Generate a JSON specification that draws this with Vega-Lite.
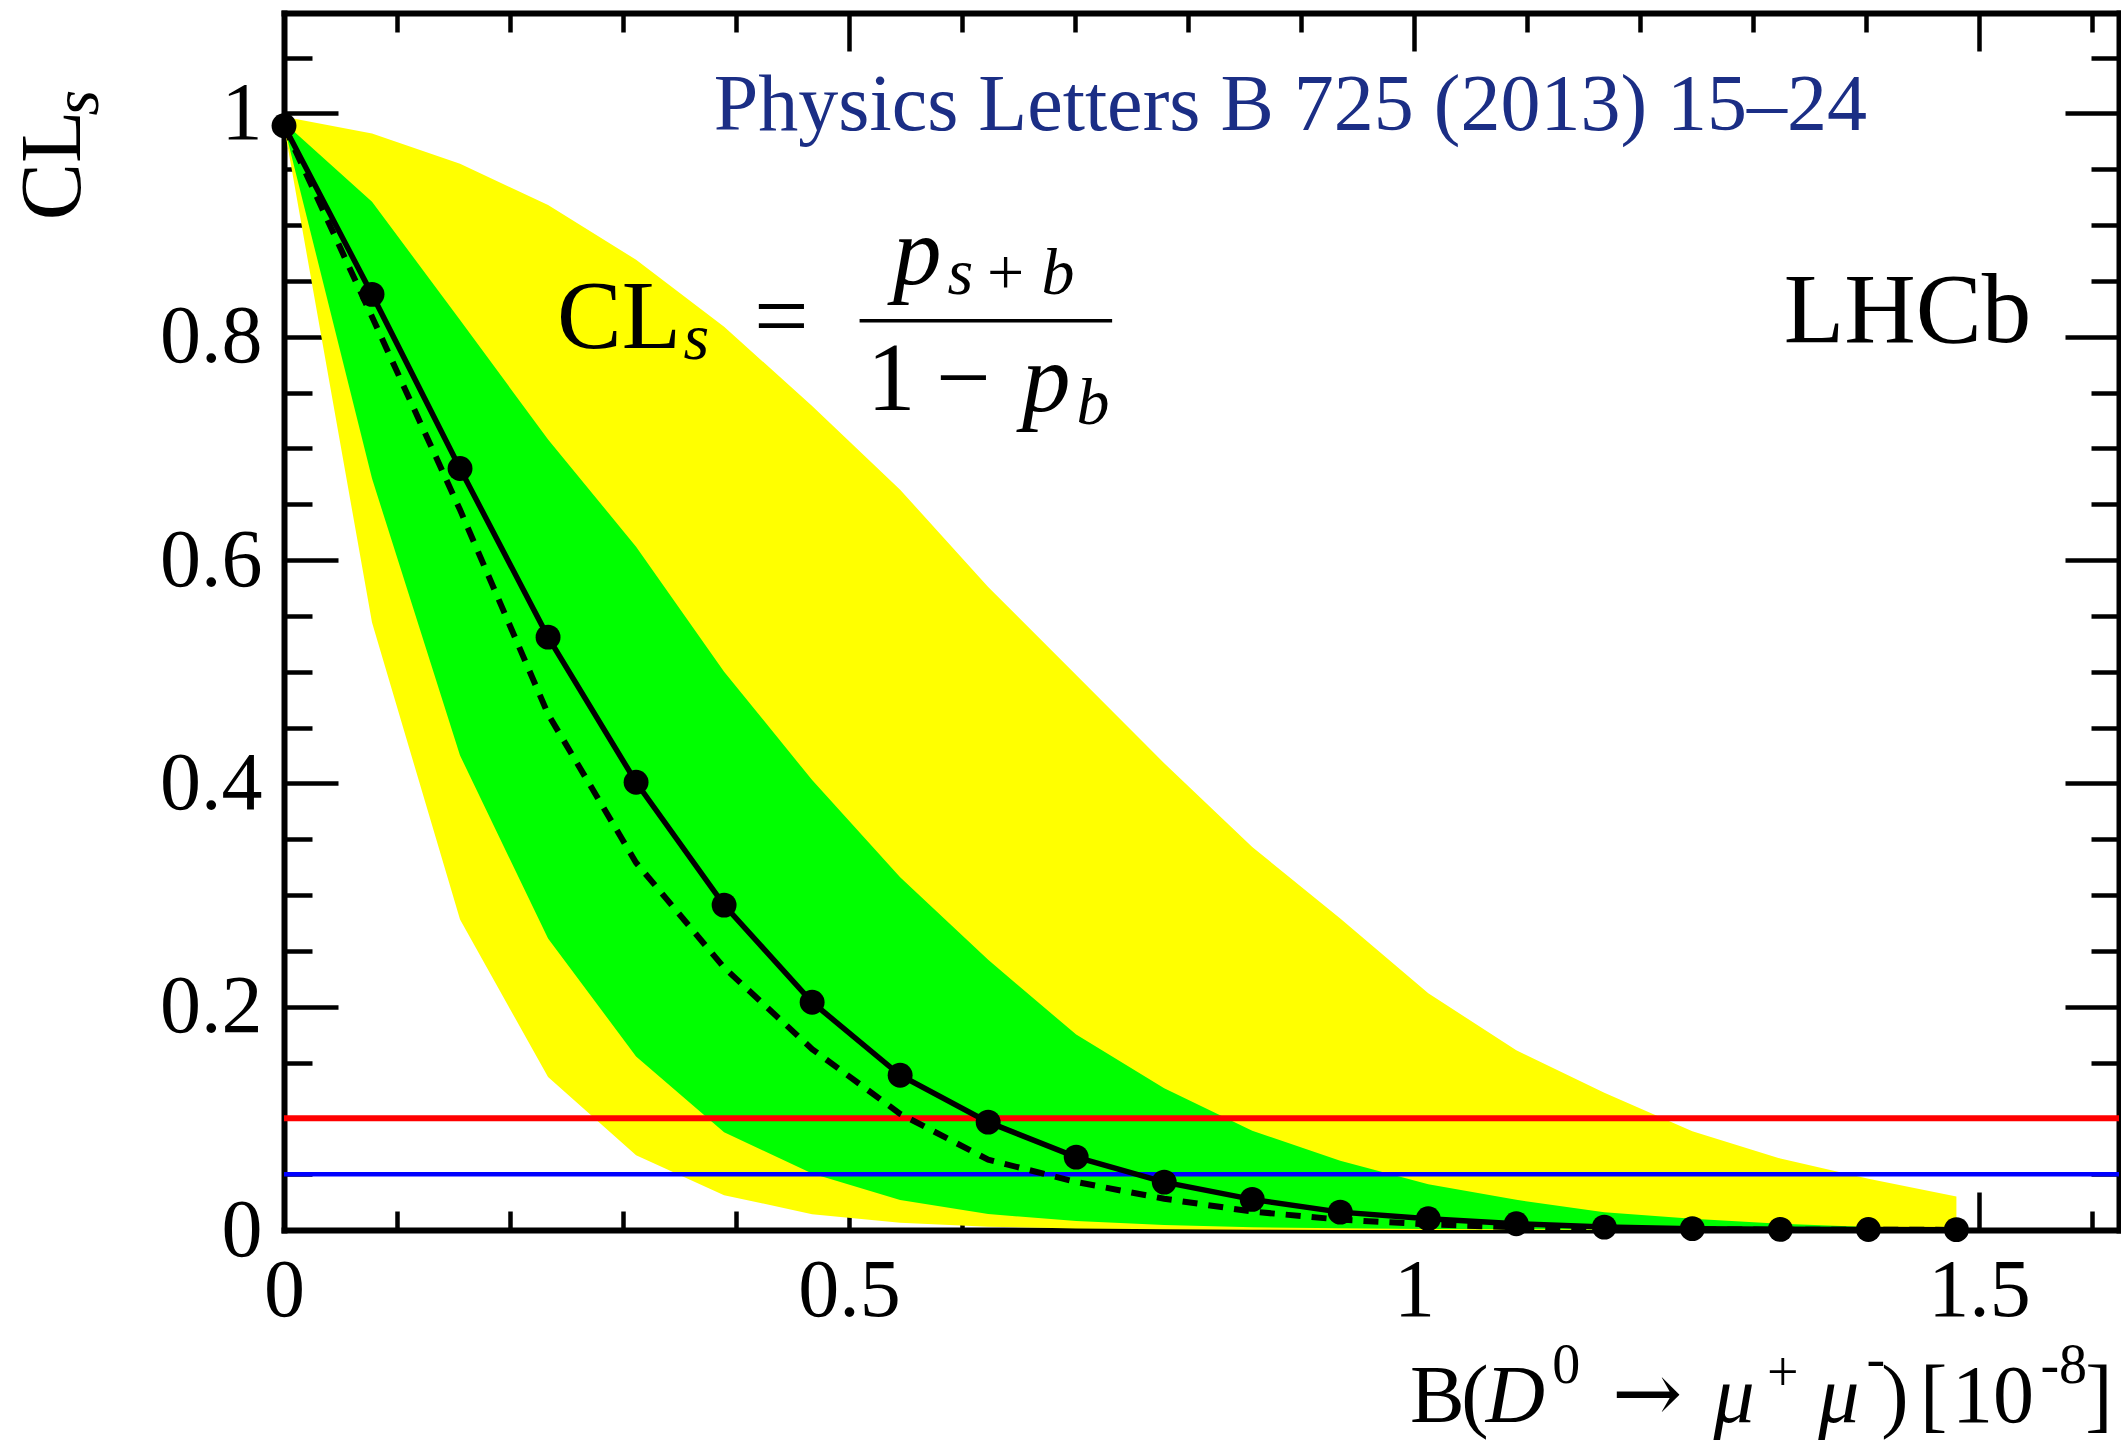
{
  "$schema": "https://vega.github.io/schema/vega-lite/v6.json",
  "autosize": "none",
  "width": 1835,
  "height": 1217,
  "padding": {"left": 284, "top": 13, "right": 2, "bottom": 214},
  "background": "white",
  "config": {
    "view": {"stroke": null},
    "axis": {"domain": false, "grid": false, "tickColor": "black", "tickWidth": 4.5, "zindex": 1,
             "labelFont": "Liberation Serif", "labelFontSize": 82, "labelColor": "black",
             "labelFlush": false, "labelOverlap": false, "labelBound": false}
  },
  "datasets": {
    "cls": [
      {"x": 0, "obs": 0.989, "exp": 0.989, "lo2": 0.989, "lo1": 0.989, "hi1": 0.992, "hi2": 0.997},
      {"x": 0.0779, "obs": 0.838, "exp": 0.818, "lo2": 0.544, "lo1": 0.673, "hi1": 0.921, "hi2": 0.982},
      {"x": 0.1558, "obs": 0.682, "exp": 0.645, "lo2": 0.278, "lo1": 0.425, "hi1": 0.815, "hi2": 0.955},
      {"x": 0.2337, "obs": 0.531, "exp": 0.462, "lo2": 0.137, "lo1": 0.261, "hi1": 0.708, "hi2": 0.918},
      {"x": 0.3116, "obs": 0.401, "exp": 0.329, "lo2": 0.067, "lo1": 0.1555, "hi1": 0.612, "hi2": 0.869},
      {"x": 0.3895, "obs": 0.291, "exp": 0.235, "lo2": 0.0312, "lo1": 0.0875, "hi1": 0.5, "hi2": 0.809},
      {"x": 0.4674, "obs": 0.204, "exp": 0.162, "lo2": 0.0142, "lo1": 0.0505, "hi1": 0.403, "hi2": 0.738},
      {"x": 0.5453, "obs": 0.1386, "exp": 0.104, "lo2": 0.0066, "lo1": 0.0268, "hi1": 0.316, "hi2": 0.663},
      {"x": 0.6232, "obs": 0.0966, "exp": 0.063, "lo2": 0.003, "lo1": 0.0143, "hi1": 0.242, "hi2": 0.576},
      {"x": 0.7011, "obs": 0.0653, "exp": 0.043, "lo2": 0.0014, "lo1": 0.008, "hi1": 0.175, "hi2": 0.497},
      {"x": 0.779, "obs": 0.0429, "exp": 0.028, "lo2": 0.0007, "lo1": 0.0045, "hi1": 0.127, "hi2": 0.418},
      {"x": 0.8569, "obs": 0.0274, "exp": 0.0165, "lo2": 0.0003, "lo1": 0.0025, "hi1": 0.089, "hi2": 0.343},
      {"x": 0.9348, "obs": 0.016, "exp": 0.0093, "lo2": 0.0001, "lo1": 0.0015, "hi1": 0.062, "hi2": 0.279},
      {"x": 1.0127, "obs": 0.0101, "exp": 0.005, "lo2": 0, "lo1": 0.001, "hi1": 0.041, "hi2": 0.212},
      {"x": 1.0906, "obs": 0.0056, "exp": 0.0025, "lo2": 0, "lo1": 0.0006, "hi1": 0.027, "hi2": 0.161},
      {"x": 1.1685, "obs": 0.0026, "exp": 0.001, "lo2": 0, "lo1": 0.0004, "hi1": 0.016, "hi2": 0.123},
      {"x": 1.2464, "obs": 0.0012, "exp": 0.0005, "lo2": 0, "lo1": 0.0002, "hi1": 0.01, "hi2": 0.0885},
      {"x": 1.3243, "obs": 0.0006, "exp": 0.0003, "lo2": 0, "lo1": 0.0001, "hi1": 0.0056, "hi2": 0.064},
      {"x": 1.4022, "obs": 0.0004, "exp": 0.0002, "lo2": 0, "lo1": 0, "hi1": 0.0026, "hi2": 0.046},
      {"x": 1.4801, "obs": 0.0003, "exp": 0.0001, "lo2": 0, "lo1": 0, "hi1": 0.001, "hi2": 0.03}
    ],
    "limits": [
      {"cl": "90%", "level": 0.1},
      {"cl": "95%", "level": 0.05}
    ],
    "fraction": [
      {"x": 0.5094, "x2": 0.7329, "y": 0.8143}
    ],
    "texts": [
      {"x": 0.2417, "y": 0.7902, "text": "CL", "group": "f_reg"},
      {"x": 0.4159, "y": 0.7902, "text": "=", "group": "f_reg"},
      {"x": 0.5159, "y": 0.7343, "text": "1", "group": "f_reg"},
      {"x": 0.577, "y": 0.7343, "text": "−", "group": "f_reg"},
      {"x": 0.5389, "y": 0.8474, "text": "p", "group": "f_it"},
      {"x": 0.6531, "y": 0.7335, "text": "p", "group": "f_it"},
      {"x": 0.3535, "y": 0.7802, "text": "s", "group": "f_subit"},
      {"x": 0.5872, "y": 0.8382, "text": "s", "group": "f_subit"},
      {"x": 0.6705, "y": 0.8382, "text": "b", "group": "f_subit"},
      {"x": 0.7014, "y": 0.7223, "text": "b", "group": "f_subit"},
      {"x": 0.6222, "y": 0.8382, "text": "+", "group": "f_sub"},
      {"x": 1.3274, "y": 0.7953, "text": "LHCb", "group": "lhcb"},
      {"x": 0.8907, "y": 0.9849, "text": "Physics Letters B 725 (2013) 15–24", "group": "journal"},
      {"x": 0.9965, "y": -0.1723, "text": "B", "group": "xt_reg"},
      {"x": 1.0418, "y": -0.1723, "text": "(", "group": "xt_reg"},
      {"x": 1.0636, "y": -0.1723, "text": "D", "group": "xt_it"},
      {"x": 1.1225, "y": -0.1374, "text": "0", "group": "xt_sup"},
      {"x": 1.1752, "y": -0.1723, "text": "→", "group": "xt_arrow"},
      {"x": 1.2651, "y": -0.1723, "text": "μ", "group": "xt_it"},
      {"x": 1.3125, "y": -0.1446, "text": "+", "group": "xt_sup"},
      {"x": 1.3578, "y": -0.1723, "text": "μ", "group": "xt_it"},
      {"x": 1.4005, "y": -0.1317, "text": "-", "group": "xt_sup"},
      {"x": 1.4135, "y": -0.1723, "text": ")", "group": "xt_reg"},
      {"x": 1.4478, "y": -0.1723, "text": "[", "group": "xt_reg"},
      {"x": 1.4761, "y": -0.1723, "text": "10", "group": "xt_reg"},
      {"x": 1.5545, "y": -0.1374, "text": "-8", "group": "xt_sup"},
      {"x": 1.5941, "y": -0.1723, "text": "]", "group": "xt_reg"},
      {"x": -0.1802, "y": 0.9043, "text": "CL", "group": "yt_reg"},
      {"x": -0.1646, "y": 0.9983, "text": "s", "group": "yt_subit"}
    ]
  },
  "resolve": {"axis": {"x": "independent", "y": "independent"}},
  "layer": [
    {
      "data": {"name": "cls"},
      "mark": {"type": "area", "color": "#ffff00", "interpolate": "linear"},
      "encoding": {
        "x": {"field": "x", "type": "quantitative", "scale": {"domain": [0, 1.624], "nice": false, "zero": false},
              "axis": {"orient": "bottom", "values": [0, 0.5, 1, 1.5], "tickSize": -38, "labels": false, "title": null,
                       "domain": true, "domainColor": "black", "domainWidth": 6, "domainCap": "square"}},
        "y": {"field": "lo2", "type": "quantitative", "scale": {"domain": [0, 1.09], "nice": false, "zero": false},
              "axis": {"orient": "left", "values": [0, 0.2, 0.4, 0.6, 0.8, 1], "tickSize": -54, "labels": false, "title": null,
                       "domain": true, "domainColor": "black", "domainWidth": 6, "domainCap": "square"}},
        "y2": {"field": "hi2"}
      }
    },
    {
      "data": {"name": "cls"},
      "mark": {"type": "area", "color": "#00ff00", "interpolate": "linear"},
      "encoding": {
        "x": {"field": "x", "type": "quantitative", "scale": {"domain": [0, 1.624], "nice": false, "zero": false},
              "axis": {"orient": "bottom", "values": [0.1, 0.2, 0.3, 0.4, 0.6, 0.7, 0.8, 0.9, 1.1, 1.2, 1.3, 1.4, 1.6], "tickSize": -19, "labels": false, "title": null}},
        "y": {"field": "lo1", "type": "quantitative", "scale": {"domain": [0, 1.09], "nice": false, "zero": false},
              "axis": {"orient": "left", "values": [0.05, 0.1, 0.15, 0.25, 0.3, 0.35, 0.45, 0.5, 0.55, 0.65, 0.7, 0.75, 0.85, 0.9, 0.95, 1.05], "tickSize": -28, "labels": false, "title": null}},
        "y2": {"field": "hi1"}
      }
    },
    {
      "data": {"name": "limits"},
      "transform": [{"filter": "datum.cl == '90%'"}],
      "mark": {"type": "rule", "color": "#ff0000", "strokeWidth": 6},
      "encoding": {
        "y": {"field": "level", "type": "quantitative", "scale": {"domain": [0, 1.09], "nice": false, "zero": false}, "axis": null}
      }
    },
    {
      "data": {"name": "limits"},
      "transform": [{"filter": "datum.cl == '95%'"}],
      "mark": {"type": "rule", "color": "#0000ff", "strokeWidth": 4.5},
      "encoding": {
        "y": {"field": "level", "type": "quantitative", "scale": {"domain": [0, 1.09], "nice": false, "zero": false}, "axis": null}
      }
    },
    {
      "data": {"name": "cls"},
      "mark": {"type": "line", "color": "black", "strokeWidth": 6, "strokeDash": [15, 11]},
      "encoding": {
        "x": {"field": "x", "type": "quantitative", "scale": {"domain": [0, 1.624], "nice": false, "zero": false},
              "axis": {"orient": "top", "values": [0, 0.5, 1, 1.5], "tickSize": -38, "labels": false, "title": null,
                       "domain": true, "domainColor": "black", "domainWidth": 6, "domainCap": "square"}},
        "y": {"field": "exp", "type": "quantitative", "scale": {"domain": [0, 1.09], "nice": false, "zero": false},
              "axis": {"orient": "right", "values": [0, 0.2, 0.4, 0.6, 0.8, 1], "tickSize": -54, "labels": false, "title": null,
                       "domain": true, "domainColor": "black", "domainWidth": 6, "domainCap": "square"}}
      }
    },
    {
      "data": {"name": "cls"},
      "mark": {"type": "line", "color": "black", "strokeWidth": 5.5},
      "encoding": {
        "x": {"field": "x", "type": "quantitative", "scale": {"domain": [0, 1.624], "nice": false, "zero": false},
              "axis": {"orient": "top", "values": [0.1, 0.2, 0.3, 0.4, 0.6, 0.7, 0.8, 0.9, 1.1, 1.2, 1.3, 1.4, 1.6], "tickSize": -19, "labels": false, "title": null}},
        "y": {"field": "obs", "type": "quantitative", "scale": {"domain": [0, 1.09], "nice": false, "zero": false},
              "axis": {"orient": "right", "values": [0.05, 0.1, 0.15, 0.25, 0.3, 0.35, 0.45, 0.5, 0.55, 0.65, 0.7, 0.75, 0.85, 0.9, 0.95, 1.05], "tickSize": -28, "labels": false, "title": null}}
      }
    },
    {
      "data": {"name": "cls"},
      "mark": {"type": "point", "shape": "circle", "filled": true, "color": "black", "size": 620, "opacity": 1},
      "encoding": {
        "x": {"field": "x", "type": "quantitative", "scale": {"domain": [0, 1.624], "nice": false, "zero": false},
              "axis": {"orient": "bottom", "values": [0, 0.5, 1, 1.5], "ticks": false, "labels": true, "labelPadding": 20, "format": "~g", "title": null}},
        "y": {"field": "obs", "type": "quantitative", "scale": {"domain": [0, 1.09], "nice": false, "zero": false},
              "axis": {"orient": "left", "values": [0, 0.2, 0.4, 0.6, 0.8, 1], "ticks": false, "labels": true, "labelPadding": 22, "format": "~g", "title": null}}
      }
    },
    {
      "data": {"name": "fraction"},
      "mark": {"type": "rule", "color": "black", "strokeWidth": 3.5},
      "encoding": {
        "x": {"field": "x", "type": "quantitative", "scale": {"domain": [0, 1.624], "nice": false, "zero": false}, "axis": null},
        "x2": {"field": "x2"},
        "y": {"field": "y", "type": "quantitative", "scale": {"domain": [0, 1.09], "nice": false, "zero": false}, "axis": null}
      }
    },
    {
      "data": {"name": "texts"},
      "transform": [{"filter": "datum.group == 'f_reg'"}],
      "mark": {"type": "text", "font": "Liberation Serif", "fontSize": 97, "align": "left", "baseline": "alphabetic", "color": "black"},
      "encoding": {
        "x": {"field": "x", "type": "quantitative", "scale": {"domain": [0, 1.624], "nice": false, "zero": false}, "axis": null},
        "y": {"field": "y", "type": "quantitative", "scale": {"domain": [0, 1.09], "nice": false, "zero": false}, "axis": null},
        "text": {"field": "text"}
      }
    },
    {
      "data": {"name": "texts"},
      "transform": [{"filter": "datum.group == 'f_it'"}],
      "mark": {"type": "text", "font": "Liberation Serif", "fontStyle": "italic", "fontSize": 97, "align": "left", "baseline": "alphabetic", "color": "black"},
      "encoding": {
        "x": {"field": "x", "type": "quantitative", "scale": {"domain": [0, 1.624], "nice": false, "zero": false}, "axis": null},
        "y": {"field": "y", "type": "quantitative", "scale": {"domain": [0, 1.09], "nice": false, "zero": false}, "axis": null},
        "text": {"field": "text"}
      }
    },
    {
      "data": {"name": "texts"},
      "transform": [{"filter": "datum.group == 'f_subit'"}],
      "mark": {"type": "text", "font": "Liberation Serif", "fontStyle": "italic", "fontSize": 66, "align": "left", "baseline": "alphabetic", "color": "black"},
      "encoding": {
        "x": {"field": "x", "type": "quantitative", "scale": {"domain": [0, 1.624], "nice": false, "zero": false}, "axis": null},
        "y": {"field": "y", "type": "quantitative", "scale": {"domain": [0, 1.09], "nice": false, "zero": false}, "axis": null},
        "text": {"field": "text"}
      }
    },
    {
      "data": {"name": "texts"},
      "transform": [{"filter": "datum.group == 'f_sub'"}],
      "mark": {"type": "text", "font": "Liberation Serif", "fontSize": 66, "align": "left", "baseline": "alphabetic", "color": "black"},
      "encoding": {
        "x": {"field": "x", "type": "quantitative", "scale": {"domain": [0, 1.624], "nice": false, "zero": false}, "axis": null},
        "y": {"field": "y", "type": "quantitative", "scale": {"domain": [0, 1.09], "nice": false, "zero": false}, "axis": null},
        "text": {"field": "text"}
      }
    },
    {
      "data": {"name": "texts"},
      "transform": [{"filter": "datum.group == 'lhcb'"}],
      "mark": {"type": "text", "font": "Liberation Serif", "fontSize": 99, "align": "left", "baseline": "alphabetic", "color": "black"},
      "encoding": {
        "x": {"field": "x", "type": "quantitative", "scale": {"domain": [0, 1.624], "nice": false, "zero": false}, "axis": null},
        "y": {"field": "y", "type": "quantitative", "scale": {"domain": [0, 1.09], "nice": false, "zero": false}, "axis": null},
        "text": {"field": "text"}
      }
    },
    {
      "data": {"name": "texts"},
      "transform": [{"filter": "datum.group == 'journal'"}],
      "mark": {"type": "text", "font": "Liberation Serif", "fontSize": 80, "align": "center", "baseline": "alphabetic", "color": "#1b2e85"},
      "encoding": {
        "x": {"field": "x", "type": "quantitative", "scale": {"domain": [0, 1.624], "nice": false, "zero": false}, "axis": null},
        "y": {"field": "y", "type": "quantitative", "scale": {"domain": [0, 1.09], "nice": false, "zero": false}, "axis": null},
        "text": {"field": "text"}
      }
    },
    {
      "data": {"name": "texts"},
      "transform": [{"filter": "datum.group == 'xt_reg'"}],
      "mark": {"type": "text", "font": "Liberation Serif", "fontSize": 82, "align": "left", "baseline": "alphabetic", "color": "black"},
      "encoding": {
        "x": {"field": "x", "type": "quantitative", "scale": {"domain": [0, 1.624], "nice": false, "zero": false}, "axis": null},
        "y": {"field": "y", "type": "quantitative", "scale": {"domain": [0, 1.09], "nice": false, "zero": false}, "axis": null},
        "text": {"field": "text"}
      }
    },
    {
      "data": {"name": "texts"},
      "transform": [{"filter": "datum.group == 'xt_arrow'"}],
      "mark": {"type": "text", "font": "DejaVu Serif", "fontSize": 84, "align": "left", "baseline": "alphabetic", "color": "black"},
      "encoding": {
        "x": {"field": "x", "type": "quantitative", "scale": {"domain": [0, 1.624], "nice": false, "zero": false}, "axis": null},
        "y": {"field": "y", "type": "quantitative", "scale": {"domain": [0, 1.09], "nice": false, "zero": false}, "axis": null},
        "text": {"field": "text"}
      }
    },
    {
      "data": {"name": "texts"},
      "transform": [{"filter": "datum.group == 'xt_it'"}],
      "mark": {"type": "text", "font": "Liberation Serif", "fontStyle": "italic", "fontSize": 82, "align": "left", "baseline": "alphabetic", "color": "black"},
      "encoding": {
        "x": {"field": "x", "type": "quantitative", "scale": {"domain": [0, 1.624], "nice": false, "zero": false}, "axis": null},
        "y": {"field": "y", "type": "quantitative", "scale": {"domain": [0, 1.09], "nice": false, "zero": false}, "axis": null},
        "text": {"field": "text"}
      }
    },
    {
      "data": {"name": "texts"},
      "transform": [{"filter": "datum.group == 'xt_sup'"}],
      "mark": {"type": "text", "font": "Liberation Serif", "fontSize": 56, "align": "left", "baseline": "alphabetic", "color": "black"},
      "encoding": {
        "x": {"field": "x", "type": "quantitative", "scale": {"domain": [0, 1.624], "nice": false, "zero": false}, "axis": null},
        "y": {"field": "y", "type": "quantitative", "scale": {"domain": [0, 1.09], "nice": false, "zero": false}, "axis": null},
        "text": {"field": "text"}
      }
    },
    {
      "data": {"name": "texts"},
      "transform": [{"filter": "datum.group == 'yt_reg'"}],
      "mark": {"type": "text", "font": "Liberation Serif", "fontSize": 86, "align": "left", "baseline": "alphabetic", "angle": 270, "color": "black"},
      "encoding": {
        "x": {"field": "x", "type": "quantitative", "scale": {"domain": [0, 1.624], "nice": false, "zero": false}, "axis": null},
        "y": {"field": "y", "type": "quantitative", "scale": {"domain": [0, 1.09], "nice": false, "zero": false}, "axis": null},
        "text": {"field": "text"}
      }
    },
    {
      "data": {"name": "texts"},
      "transform": [{"filter": "datum.group == 'yt_subit'"}],
      "mark": {"type": "text", "font": "Liberation Serif", "fontStyle": "italic", "fontSize": 66, "align": "left", "baseline": "alphabetic", "angle": 270, "color": "black"},
      "encoding": {
        "x": {"field": "x", "type": "quantitative", "scale": {"domain": [0, 1.624], "nice": false, "zero": false}, "axis": null},
        "y": {"field": "y", "type": "quantitative", "scale": {"domain": [0, 1.09], "nice": false, "zero": false}, "axis": null},
        "text": {"field": "text"}
      }
    }
  ]
}
